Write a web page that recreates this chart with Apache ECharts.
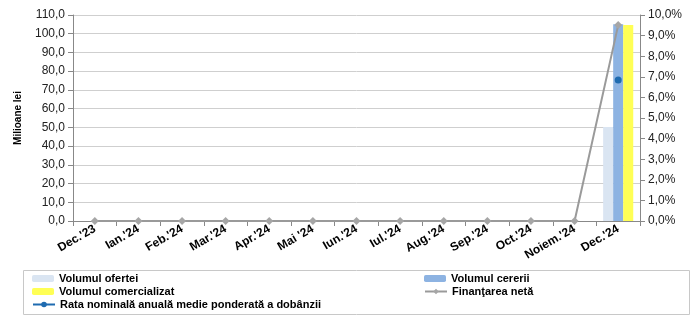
<!DOCTYPE html>
<html>
<head>
<meta charset="utf-8">
<script src="https://cdn.jsdelivr.net/npm/echarts@6/dist/echarts.min.js"></script>
<style>
  html, body { margin: 0; padding: 0; background: #fff; }
  #chart { width: 694px; height: 315px; }
</style>
</head>
<body>
<div id="chart"></div>
<script>
var months = ["Dec.'23", "Ian.'24", "Feb.'24", "Mar.'24", "Apr.'24", "Mai '24", "Iun.'24", "Iul.'24", "Aug.'24", "Sep.'24", "Oct.'24", "Noiem.'24", "Dec.'24"]
var volumOferta = [0, 0, 0, 0, 0, 0, 0, 0, 0, 0, 0, 0, 50.2]
var volumCerere = [0, 0, 0, 0, 0, 0, 0, 0, 0, 0, 0, 0, 105.0]
var volumComercializat = [0, 0, 0, 0, 0, 0, 0, 0, 0, 0, 0, 0, 104.6]
var finantareNeta = [0, 0, 0, 0, 0, 0, 0, 0, 0, 0, 0, 0, 104.6]
var rataDobanzii = [null, null, null, null, null, null, null, null, null, null, null, null, 6.84]

var fmt = function (v) { return v.toFixed(1).replace('.', ',') }

// one legend per item so they sit like the excel legend grid
var legendItem = function (name, left, top) {
  return {
    left: left, top: top, orient: 'horizontal',
    itemWidth: 22, itemHeight: 7, padding: 0,
    textStyle: { fontWeight: 'bold', fontSize: 11, color: '#000' },
    data: [name]
  }
}

var myChart = echarts.init(document.getElementById('chart'))
myChart.setOption({
  animation: false,
  textStyle: { fontFamily: 'Liberation Sans, Arial, sans-serif' },
  grid: { left: 73, right: 54, top: 15, bottom: 94 },
  graphic: [{
    type: 'rect',
    shape: { x: 23.5, y: 270.5, width: 666, height: 44 },
    style: { fill: 'none', stroke: '#c8c8c8', lineWidth: 1 }
  }],
  legend: [
    legendItem('Volumul ofertei', 32, 273),
    legendItem('Volumul comercializat', 32, 286),
    legendItem('Rata nominală anuală medie ponderată a dobânzii', 32, 299),
    legendItem('Volumul cererii', 424, 273),
    legendItem('Finanţarea netă', 424, 286)
  ],
  xAxis: {
    type: 'category',
    data: months,
    axisLine: { lineStyle: { color: '#888' } },
    axisTick: { show: true, lineStyle: { color: '#888' } },
    axisLabel: { rotate: 30, color: '#000', fontWeight: 'bold', fontSize: 12, margin: 7, interval: 0 }
  },
  yAxis: [
    {
      type: 'value', min: 0, max: 110, interval: 10,
      name: 'Milioane lei', nameLocation: 'middle', nameGap: 50, nameRotate: 90,
      nameTextStyle: { fontWeight: 'bold', fontSize: 10, color: '#000' },
      axisLine: { show: true, lineStyle: { color: '#888' } },
      axisTick: { show: true, lineStyle: { color: '#888' } },
      axisLabel: { color: '#222', fontSize: 12, formatter: fmt },
      splitLine: { lineStyle: { color: '#cfcfcf' } }
    },
    {
      type: 'value', min: 0, max: 10, interval: 1,
      axisLine: { show: true, lineStyle: { color: '#888' } },
      axisTick: { show: true, lineStyle: { color: '#888' } },
      axisLabel: { color: '#222', fontSize: 12, formatter: function (v) { return fmt(v) + '%' } },
      splitLine: { show: false }
    }
  ],
  series: [
    {
      name: 'Volumul ofertei', type: 'bar', data: volumOferta,
      barGap: '0%', barCategoryGap: '31%',
      itemStyle: { color: '#dae5f2' }
    },
    {
      name: 'Volumul cererii', type: 'bar', data: volumCerere,
      itemStyle: { color: '#8db3e2' }
    },
    {
      name: 'Volumul comercializat', type: 'bar', data: volumComercializat,
      itemStyle: { color: '#ffff55' }
    },
    {
      name: 'Finanţarea netă', type: 'line', data: finantareNeta,
      symbol: 'diamond', symbolSize: 8,
      lineStyle: { color: '#9a9a9a', width: 2 },
      itemStyle: { color: '#a6a6a6' }
    },
    {
      name: 'Rata nominală anuală medie ponderată a dobânzii', type: 'line', yAxisIndex: 1,
      data: rataDobanzii, symbol: 'circle', symbolSize: 7,
      lineStyle: { color: '#1f6bb0', width: 2 },
      itemStyle: { color: '#1f6bb0' }
    }
  ]
})
</script>
</body>
</html>
